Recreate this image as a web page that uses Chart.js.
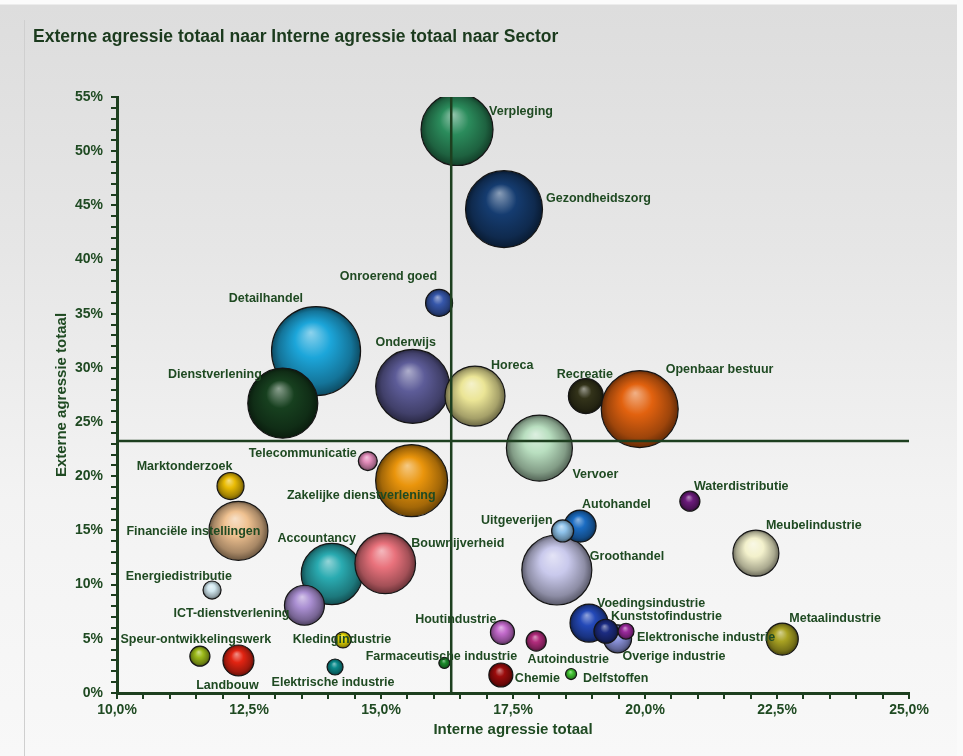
<!DOCTYPE html>
<html>
<head>
<meta charset="utf-8">
<script src="https://cdn.jsdelivr.net/npm/chart.js@4.4.1/dist/chart.umd.min.js"></script>
<style>
  html, body { margin: 0; padding: 0; background: #fafafa; }
  #frame {
    position: relative; width: 963px; height: 756px; overflow: hidden;
    background: linear-gradient(to bottom, #fbfbfb 0px, #fbfbfb 4px, #dddddd 5px, #e6e6e6 250px, #f3f3f3 500px, #f8f8f8 756px);
  }
  #frame::before {
    content: ''; position: absolute; left: 24px; top: 20px; bottom: 0; width: 1px; background: #cfcfcf;
  }
  #frame::after {
    content: ''; position: absolute; right: 0; top: 0; bottom: 0; width: 6px; background: #fafafa;
  }
  canvas { position: absolute; left: 0; top: 0; }
</style>
</head>
<body>
<div id="frame"><canvas id="sectorBubbleChart" width="963" height="756"></canvas></div>
<script>
// Data (percentages), in drawing order
const sectors = [
    'Detailhandel', 'Dienstverlening', 'Verpleging', 'Gezondheidszorg', 'Onderwijs',
    'Horeca', 'Recreatie', 'Openbaar bestuur', 'Vervoer', 'Zakelijke dienstverlening',
    'Groothandel', 'Accountancy', 'Bouwnijverheid', 'Financiële instellingen', 'Meubelindustrie',
    'ICT-dienstverlening', 'Overige industrie', 'Voedingsindustrie', 'Autohandel', 'Uitgeverijen',
    'Kunststofindustrie', 'Elektronische industrie', 'Metaalindustrie', 'Landbouw', 'Onroerend goed',
    'Marktonderzoek', 'Houtindustrie', 'Chemie', 'Autoindustrie', 'Waterdistributie',
    'Speur-ontwikkelingswerk', 'Telecommunicatie', 'Energiedistributie', 'Kledingindustrie', 'Elektrische industrie',
    'Farmaceutische industrie', 'Delfstoffen'
];
const interneAgressie = [
    13.77, 13.14, 16.44, 17.33, 15.6,
    16.78, 18.88, 19.9, 18.0, 15.58,
    18.33, 14.07, 15.08, 12.3, 22.1,
    13.55, 19.48, 18.94, 18.77, 18.44,
    19.26, 19.64, 22.6, 12.3, 16.1,
    12.15, 17.3, 17.27, 17.94, 20.85,
    11.57, 14.75, 11.8, 14.28, 14.13,
    16.2, 18.6
];
const externeAgressie = [
    31.55, 26.75, 52.0, 44.65, 28.3,
    27.4, 27.4, 26.2, 22.6, 19.6,
    11.35, 10.98, 11.96, 14.97, 12.9,
    8.1, 5.0, 6.45, 15.4, 14.95,
    5.7, 5.7, 4.98, 3.0, 36.0,
    19.1, 5.6, 1.66, 4.8, 17.7,
    3.4, 21.4, 9.5, 4.9, 2.4,
    2.77, 1.75
];
const omvang = [
    123.8, 76.6, 81, 92.6, 85.6,
    56.3, 19.1, 92.6, 68.1, 81,
    76.6, 58.9, 57.4, 54.4, 33.1,
    25, 12.3, 22.6, 16, 7.6,
    9, 4, 16, 15, 11.4,
    11.4, 9, 9, 6.3, 6.3,
    6.3, 5.6, 5.1, 4, 4,
    1.9, 1.9
];
const gemiddeldeInterne = 16.33;
const gemiddeldeExterne = 23.25;

const kleuren = [
    '#1ca6da', '#17401f', '#2b8c5c', '#153c70', '#5d5c98',
    '#ebe596', '#33331a', '#e2620f', '#b9dfc0', '#ea950c',
    '#c9c9ec', '#2aabb1', '#e9727c', '#efc190', '#f3f1cc',
    '#aa8fd2', '#8a92da', '#2449b8', '#1b6cc2', '#8ec2ea',
    '#1c2c82', '#9a2a9c', '#a9a222', '#e22412', '#3657aa',
    '#e9bb04', '#c26acb', '#9c0c0c', '#b12c7c', '#6b1b7b',
    '#9cba1a', '#e28cba', '#d2e8f0', '#e9da04', '#0c8b8c',
    '#1b8b2b', '#42c232'
];

// label offsets from bubble centre: [dx, dy, align]
const labelPlacement = {
    'Verpleging': [32, -18, 'left'],
    'Gezondheidszorg': [42, -11, 'left'],
    'Onroerend goed': [-2, -26, 'right'],
    'Detailhandel': [-13, -53, 'right'],
    'Dienstverlening': [-21, -29, 'right'],
    'Onderwijs': [-7, -44, 'center'],
    'Horeca': [16, -31, 'left'],
    'Recreatie': [-1, -22, 'center'],
    'Openbaar bestuur': [26, -40, 'left'],
    'Vervoer': [33, 26, 'left'],
    'Telecommunicatie': [-11, -8, 'right'],
    'Zakelijke dienstverlening': [24, 15, 'right'],
    'Marktonderzoek': [2, -19, 'right'],
    'Financiële instellingen': [22, 1, 'right'],
    'Accountancy': [24, -35, 'right'],
    'Bouwnijverheid': [26, -20, 'left'],
    'Energiedistributie': [20, -14, 'right'],
    'ICT-dienstverlening': [-15, 8, 'right'],
    'Speur-ontwikkelingswerk': [-4, -17, 'center'],
    'Landbouw': [-11, 25, 'center'],
    'Kledingindustrie': [-1, 0, 'center'],
    'Elektrische industrie': [-2, 16, 'center'],
    'Farmaceutische industrie': [-3, -6, 'center'],
    'Houtindustrie': [-6, -13, 'right'],
    'Chemie': [14, 4, 'left'],
    'Autoindustrie': [32, 19, 'center'],
    'Delfstoffen': [12, 5, 'left'],
    'Uitgeverijen': [-10, -10, 'right'],
    'Autohandel': [2, -22, 'left'],
    'Groothandel': [33, -13, 'left'],
    'Waterdistributie': [4, -15, 'left'],
    'Meubelindustrie': [10, -28, 'left'],
    'Metaalindustrie': [7, -20, 'left'],
    'Voedingsindustrie': [8, -20, 'left'],
    'Kunststofindustrie': [5, -15, 'left'],
    'Elektronische industrie': [11, 6, 'left'],
    'Overige industrie': [5, 18, 'left']
};

const groen = '#1d3f1f';
const tekstGroen = '#1f4a22';
const fontFamily = '"Liberation Sans", Arial, sans-serif';

function mix(hex, target, t) {
    const n = parseInt(hex.slice(1), 16);
    const r = (n >> 16) & 255, g = (n >> 8) & 255, b = n & 255;
    const m = c => Math.round(c + (target - c) * t);
    return 'rgb(' + m(r) + ',' + m(g) + ',' + m(b) + ')';
}

function sphereFill(ctx) {
    const base = kleuren[ctx.dataIndex];
    const chart = ctx.chart;
    if (!chart.chartArea || !ctx.raw) return base;
    const x = chart.scales.x.getPixelForValue(ctx.raw.x);
    const y = chart.scales.y.getPixelForValue(ctx.raw.y);
    const r = ctx.raw.r;
    const g = chart.ctx.createRadialGradient(x - r * 0.12, y - r * 0.42, 0, x, y, r);
    g.addColorStop(0, mix(base, 255, 0.5));
    g.addColorStop(0.4, base);
    g.addColorStop(0.82, mix(base, 0, 0.3));
    g.addColorStop(1, mix(base, 0, 0.55));
    return g;
}

const crosshair = {
    id: 'crosshair',
    afterDatasetsDraw(chart) {
        const {ctx, chartArea, scales} = chart;
        const x = scales.x.getPixelForValue(gemiddeldeInterne);
        const y = scales.y.getPixelForValue(gemiddeldeExterne);
        ctx.save();
        ctx.strokeStyle = groen;
        ctx.lineWidth = 2.5;
        ctx.beginPath();
        ctx.moveTo(x, chartArea.top);
        ctx.lineTo(x, chartArea.bottom);
        ctx.moveTo(chartArea.left, y);
        ctx.lineTo(chartArea.right, y);
        ctx.stroke();
        ctx.restore();
    }
};

const bubbleLabels = {
    id: 'bubbleLabels',
    afterDatasetsDraw(chart) {
        const {ctx} = chart;
        const meta = chart.getDatasetMeta(0);
        ctx.save();
        ctx.font = 'bold 12.5px ' + fontFamily;
        ctx.fillStyle = tekstGroen;
        ctx.textBaseline = 'middle';
        meta.data.forEach((el, i) => {
            const p = labelPlacement[sectors[i]] || [0, 0, 'center'];
            ctx.textAlign = p[2];
            ctx.fillText(sectors[i], el.x + p[0], el.y + p[1]);
        });
        ctx.restore();
    }
};

const isMultiple = (v, step) => Math.abs(v / step - Math.round(v / step)) < 1e-6;

const bubbleCtx = document.getElementById('sectorBubbleChart').getContext('2d');
new Chart(bubbleCtx, {
    type: 'bubble',
    data: {
        datasets: [{
            label: 'Sector',
            data: sectors.map((s, i) => ({
                x: interneAgressie[i],
                y: externeAgressie[i],
                r: 4 * Math.sqrt(omvang[i])
            })),
            backgroundColor: sphereFill,
            borderColor: '#151515',
            borderWidth: 1.2
        }]
    },
    options: {
        responsive: false,
        animation: false,
        events: [],
        layout: { padding: { left: 33, right: 54, top: 27, bottom: 15 } },
        plugins: {
            legend: { display: false },
            tooltip: { enabled: false },
            title: {
                display: true,
                text: 'Externe agressie totaal naar Interne agressie totaal naar Sector',
                align: 'start',
                color: '#1b3a1d',
                font: { family: fontFamily, size: 17.5, weight: 'bold' },
                padding: { top: 0, bottom: 49 }
            }
        },
        scales: {
            x: {
                type: 'linear',
                min: 10,
                max: 25,
                afterFit: scale => { scale.height = 48; },
                border: { color: groen, width: 3 },
                grid: { drawOnChartArea: false, tickLength: 6, color: groen, lineWidth: 2 },
                ticks: {
                    stepSize: 0.5,
                    autoSkip: false,
                    maxRotation: 0,
                    padding: 3,
                    color: tekstGroen,
                    font: { family: fontFamily, size: 14, weight: 'bold' },
                    callback: v => isMultiple(v, 2.5) ? v.toFixed(1).replace('.', ',') + '%' : ''
                },
                title: {
                    display: true,
                    text: 'Interne agressie totaal',
                    color: tekstGroen,
                    font: { family: fontFamily, size: 15, weight: 'bold' },
                    padding: { top: 0, bottom: 2 }
                }
            },
            y: {
                type: 'linear',
                min: 0,
                max: 55,
                afterFit: scale => { scale.width = 84; },
                border: { color: groen, width: 3 },
                grid: { drawOnChartArea: false, tickLength: 6, color: groen, lineWidth: 2 },
                ticks: {
                    stepSize: 1,
                    autoSkip: false,
                    padding: 8,
                    color: tekstGroen,
                    font: { family: fontFamily, size: 14, weight: 'bold' },
                    callback: v => isMultiple(v, 5) ? Math.round(v) + '%' : ''
                },
                title: {
                    display: true,
                    text: 'Externe agressie totaal',
                    color: tekstGroen,
                    font: { family: fontFamily, size: 15, weight: 'bold' },
                    padding: { top: 20, bottom: 0 }
                }
            }
        }
    },
    plugins: [crosshair, bubbleLabels]
});
</script>
</body>
</html>
